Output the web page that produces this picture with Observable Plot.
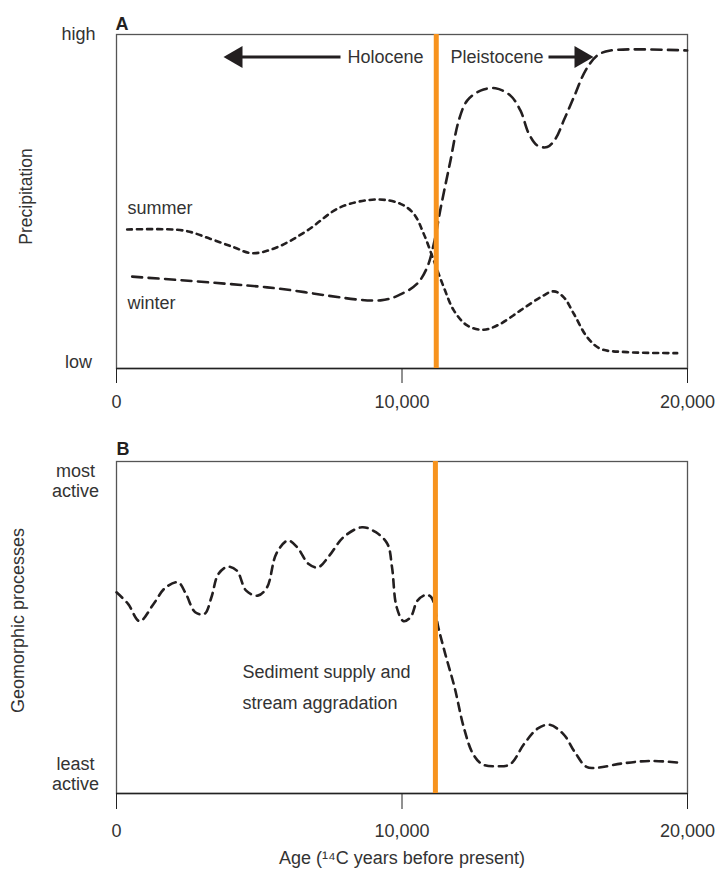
<!DOCTYPE html>
<html>
<head>
<meta charset="utf-8">
<script src="https://cdn.jsdelivr.net/npm/d3@7"></script>
<script src="https://cdn.jsdelivr.net/npm/@observablehq/plot@0.6"></script>
<style>
  html, body { margin: 0; padding: 0; background: #fff; }
  #chart svg { display: block; }
</style>
</head>
<body>
<div id="chart"></div>
<script>
// ---------- data ----------
const xTicks = [0, 10000, 20000];
const yTicksA = [0.018, 1];
const yLabelsA = ["low", "high"];
const yTicksB = [0.06, 0.943];
const yLabelsB = ["least\nactive", "most\nactive"];

const boundaryA = 11200;   // Holocene / Pleistocene boundary (14C yr BP)
const boundaryB = 11170;

// Panel A: summer precipitation (age, relative level 0=low .. 1=high)
const summerAge = [374, 2357, 3292, 4109, 4752, 5628, 6679, 7846, 9131, 9947, 10413, 10763, 11115, 11465, 11815, 12282, 12866, 13450, 14151, 14851, 15317, 15668, 16018, 16485, 16952, 17887, 19638];
const summerLevel = [0.416, 0.413, 0.388, 0.363, 0.345, 0.363, 0.413, 0.483, 0.506, 0.493, 0.463, 0.403, 0.323, 0.243, 0.174, 0.129, 0.116, 0.134, 0.174, 0.213, 0.231, 0.213, 0.164, 0.094, 0.059, 0.049, 0.046];

// Panel A: winter precipitation
const winterAge = [550, 5279, 9247, 9947, 10532, 10882, 11115, 11349, 11699, 11990, 12282, 12750, 13275, 13800, 14151, 14443, 14735, 15085, 15376, 15668, 16018, 16427, 16836, 17303, 19988];
const winterLevel = [0.275, 0.243, 0.204, 0.222, 0.254, 0.303, 0.373, 0.478, 0.623, 0.743, 0.802, 0.832, 0.839, 0.817, 0.772, 0.703, 0.668, 0.663, 0.688, 0.743, 0.812, 0.892, 0.937, 0.952, 0.952];

// Panel B: geomorphic activity
const geoAge = [0, 405, 811, 1298, 1703, 2157, 2433, 2757, 3082, 3325, 3568, 3893, 4217, 4542, 4947, 5272, 5596, 6001, 6326, 6732, 7056, 7461, 7948, 8597, 9083, 9489, 9651, 9813, 10057, 10300, 10543, 10835, 11030, 11273, 11516, 11841, 12165, 12489, 12814, 13301, 13787, 14274, 14760, 15166, 15653, 16058, 16464, 16870, 17681, 18654, 19708];
const geoLevel = [0.606, 0.571, 0.519, 0.571, 0.619, 0.636, 0.601, 0.546, 0.541, 0.591, 0.661, 0.683, 0.671, 0.611, 0.596, 0.621, 0.722, 0.762, 0.742, 0.691, 0.681, 0.717, 0.772, 0.802, 0.787, 0.752, 0.681, 0.561, 0.519, 0.531, 0.581, 0.598, 0.591, 0.5, 0.42, 0.32, 0.199, 0.119, 0.088, 0.082, 0.088, 0.149, 0.196, 0.207, 0.179, 0.124, 0.08, 0.078, 0.09, 0.098, 0.093];

// Annotations (panel A)
const epochLabels = ["Holocene", "Pleistocene"];
const epochLabelAge = [10753, 11699];
const epochLabelAnchor = ["end", "start"];
const arrowLevel = 0.933;
const arrowShaftFrom = [4300, 15131];
const arrowShaftTo = [7846, 16250];
const arrowTip = [3748, 16708];
const seriesLabels = ["summer", "winter"];
const seriesLabelAge = [385, 385];
const seriesLabelLevel = [0.479, 0.195];

// Annotations (panel B)
const noteLines = ["Sediment supply and", "stream aggradation"];
const noteAge = [4413, 4413];
const noteLevel = [0.364, 0.271];

// ---------- helpers ----------
const zip = (xs, ys) => xs.map((x, i) => ({x, y: ys[i]}));
const summer = zip(summerAge, summerLevel);
const winter = zip(winterAge, winterLevel);
const geo = zip(geoAge, geoLevel);

const font = "'Liberation Sans', Arial, Helvetica, sans-serif";
const fs = 18;
const ink = "#231f20";
const textColor = "#333";
const orange = "#f7931e";

const triLeft = {draw(ctx) { ctx.moveTo(0, 0); ctx.lineTo(19, -11); ctx.lineTo(19, 11); ctx.closePath(); }};
const triRight = {draw(ctx) { ctx.moveTo(0, 0); ctx.lineTo(-19, -11); ctx.lineTo(-19, 11); ctx.closePath(); }};

const arrows = arrowTip.map((t, i) => ({x1: arrowShaftFrom[i], x2: arrowShaftTo[i], tip: t, y: arrowLevel}));
const epochs = epochLabels.map((t, i) => ({t, x: epochLabelAge[i], a: epochLabelAnchor[i], y: arrowLevel}));
const sLabels = seriesLabels.map((t, i) => ({t, x: seriesLabelAge[i], y: seriesLabelLevel[i]}));
const notes = noteLines.map((t, i) => ({t, x: noteAge[i], y: noteLevel[i]}));

const commonStyle = {fontFamily: font, fontSize: fs + "px", color: textColor, background: "#fff", overflow: "visible"};

// ---------- Panel A ----------
const plotA = Plot.plot({
  width: 726, height: 430,
  marginLeft: 116, marginRight: 39, marginTop: 34, marginBottom: 62,
  x: {domain: [0, 20000]},
  y: {domain: [0, 1]},
  style: commonStyle,
  marks: [
    Plot.frame({stroke: "#555", strokeWidth: 1.3}),
    Plot.axisX(xTicks, {label: null, tickSize: 15, tickPadding: 12, tickFormat: d3.format(","), stroke: "#222", fill: textColor, fontSize: fs}),
    Plot.axisY(yTicksA, {label: null, tickSize: 0, tickPadding: 38, textAnchor: "middle", tickFormat: d => yLabelsA[yTicksA.indexOf(d)], fill: textColor, fontSize: fs}),
    Plot.ruleY([0], {stroke: "#222", strokeWidth: 1.5}),
    Plot.line(summer, {x: "x", y: "y", curve: "catmull-rom", stroke: ink, strokeWidth: 2.6, strokeDasharray: "5,5"}),
    Plot.line(winter, {x: "x", y: "y", curve: "catmull-rom", stroke: ink, strokeWidth: 2.6, strokeDasharray: "10,6.5"}),
    Plot.ruleX([boundaryA], {stroke: orange, strokeWidth: 5}),
    Plot.link(arrows, {x1: "x1", x2: "x2", y1: "y", y2: "y", stroke: ink, strokeWidth: 3}),
    Plot.dot(arrows.slice(0, 1), {x: "tip", y: "y", symbol: triLeft, fill: ink, stroke: null}),
    Plot.dot(arrows.slice(1), {x: "tip", y: "y", symbol: triRight, fill: ink, stroke: null}),
    Plot.text(epochs.filter(d => d.a === "end"), {x: "x", y: "y", text: "t", textAnchor: "end", fill: textColor}),
    Plot.text(epochs.filter(d => d.a === "start"), {x: "x", y: "y", text: "t", textAnchor: "start", fill: textColor}),
    Plot.text(sLabels, {x: "x", y: "y", text: "t", textAnchor: "start", fill: textColor}),
    Plot.text(["A"], {frameAnchor: "top-left", textAnchor: "start", lineAnchor: "bottom", dx: -1, dy: -5, fontWeight: "bold", fontSize: 18, fill: ink}),
    Plot.text(["Precipitation"], {frameAnchor: "left", textAnchor: "middle", rotate: -90, dx: -90, dy: -5, fontSize: 17.5, fill: textColor})
  ]
});

// ---------- Panel B ----------
const plotB = Plot.plot({
  width: 726, height: 446,
  marginLeft: 116, marginRight: 39, marginTop: 31, marginBottom: 83,
  x: {domain: [0, 20000]},
  y: {domain: [0, 1]},
  style: commonStyle,
  marks: [
    Plot.frame({stroke: "#555", strokeWidth: 1.3}),
    Plot.axisX(xTicks, {label: null, tickSize: 16, tickPadding: 15, tickFormat: d3.format(","), stroke: "#222", fill: textColor, fontSize: fs}),
    Plot.axisY(yTicksB, {label: null, tickSize: 0, tickPadding: 41, textAnchor: "middle", tickFormat: d => yLabelsB[yTicksB.indexOf(d)], fill: textColor, fontSize: fs, lineHeight: 1.12}),
    Plot.ruleY([0], {stroke: "#222", strokeWidth: 1.5}),
    Plot.line(geo, {x: "x", y: "y", curve: "catmull-rom", stroke: ink, strokeWidth: 2.6, strokeDasharray: "8,6"}),
    Plot.ruleX([boundaryB], {stroke: orange, strokeWidth: 5}),
    Plot.text(notes, {x: "x", y: "y", text: "t", textAnchor: "start", fill: textColor}),
    Plot.text(["B"], {frameAnchor: "top-left", textAnchor: "start", lineAnchor: "bottom", dx: 0, dy: -7, fontWeight: "bold", fontSize: 18, fill: ink}),
    Plot.text(["Geomorphic processes"], {frameAnchor: "left", textAnchor: "middle", rotate: -90, dx: -98, dy: -7, fontSize: 18, fill: textColor}),
    Plot.text(["Age (\u00b9\u2074C years before present)"], {frameAnchor: "bottom", textAnchor: "middle", dy: 70, fill: textColor})
  ]
});

document.getElementById("chart").append(plotA, plotB);
</script>
</body>
</html>
